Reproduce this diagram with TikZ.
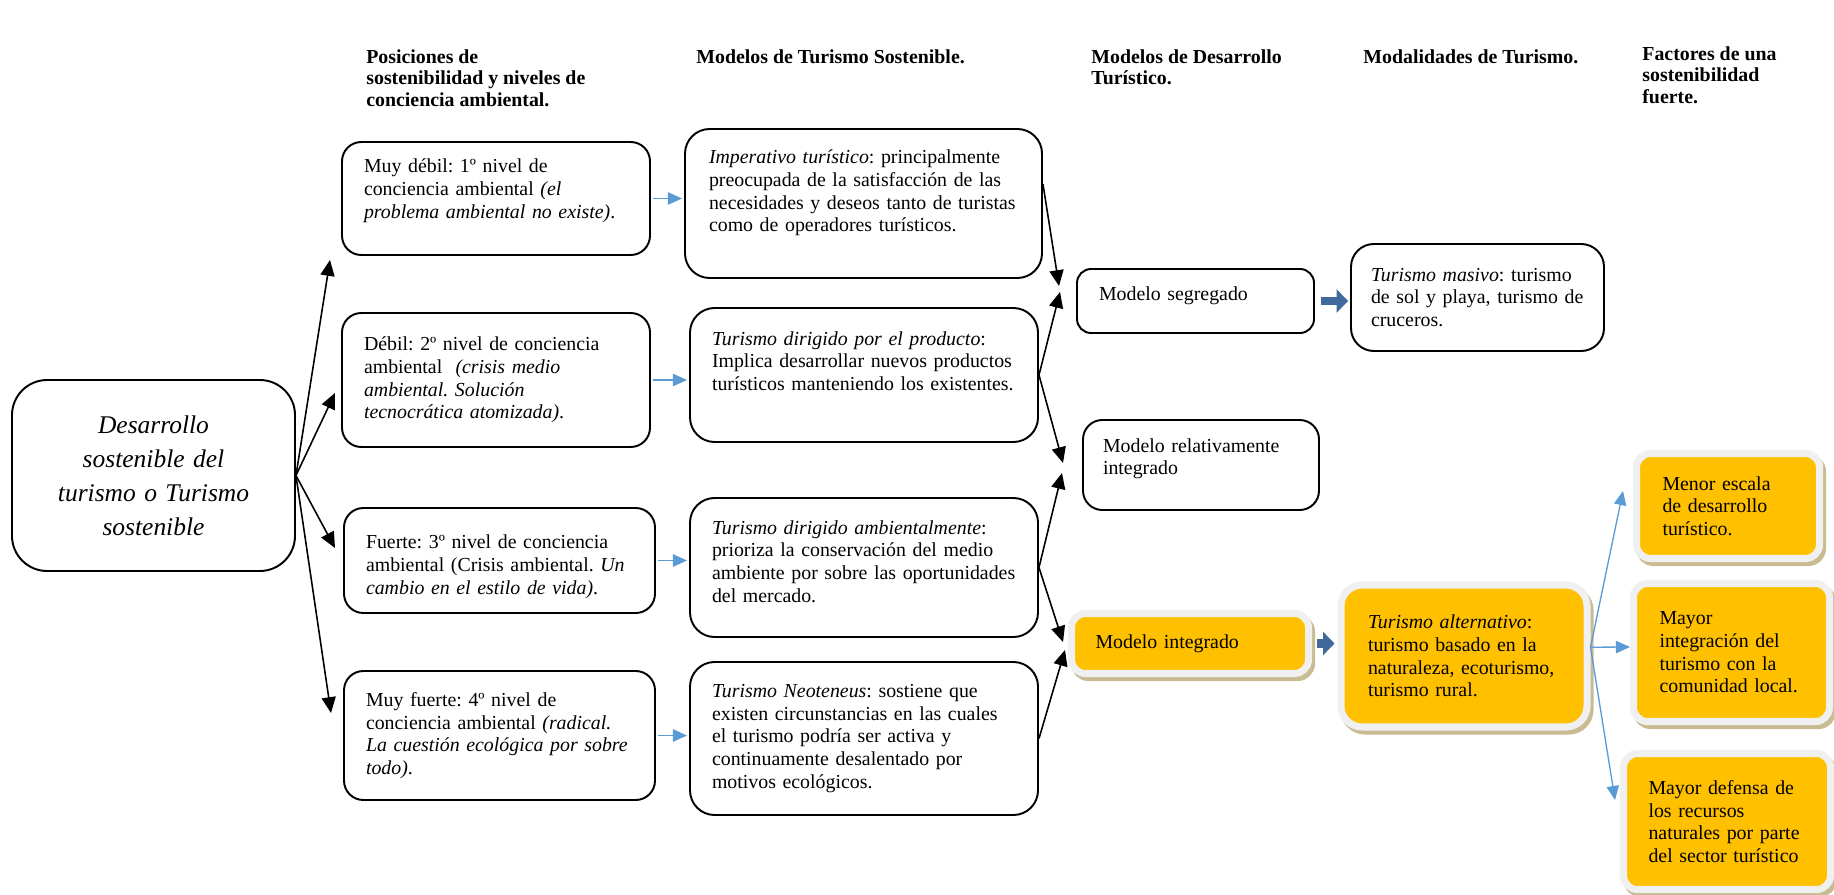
\documentclass[tikz,border=0pt]{standalone}
\usepackage{fontspec}
\setmainfont{Liberation Serif}
\usetikzlibrary{arrows.meta}
\newdimen\upx \upx=0.02cm
\newcommand{\lift}[1]{\par\vspace{#1}\hrule height0pt}
\newcommand{\drop}[1]{\hrule height0pt\vspace{#1}}
\definecolor{boxorange}{HTML}{FFC000}
\definecolor{framegray}{HTML}{F0F0F0}
\definecolor{shadowtan}{HTML}{C9BC93}
\definecolor{lineblue}{HTML}{5B9BD5}
\definecolor{blockblue}{HTML}{3F6A9B}
\tikzset{
  dims/.style n args={3}{text width=#1\upx, inner xsep=#2\upx, minimum height=#3\upx},
  txt/.style={font=\fontsize{11.3}{12.9}\selectfont\frenchspacing, align=left, inner ysep=0pt},
  whitebox/.style={txt, draw, line width=1.1pt, rounded corners=11pt},
  orangebox/.style={txt, fill=boxorange, draw=framegray, line width=4pt, rounded corners=8pt,
    preaction={draw=shadowtan, fill=shadowtan, line width=4pt,
      transform canvas={shift={(1.7pt,-2.3pt)}}}},
  header/.style={font=\fontsize{11.3}{12.4}\selectfont\bfseries, align=left,
    anchor=north west, inner sep=0pt},
  blackarrow/.style={-{Triangle[length=9pt,width=8pt]}, line width=0.9pt},
  bluearrow/.style={-{Triangle[length=8pt,width=7pt]}, draw=lineblue, line width=0.75pt,
    shorten <=2\upx, shorten >=2\upx},
  blockarrow/.style={-{Triangle[length=6.5pt,width=13pt]}, draw=blockblue, line width=4.6pt}
}
\begin{document}
\begin{tikzpicture}[x=0.02cm, y=-0.02cm]
\useasboundingbox[fill=white] (0,0) rectangle (1834,895);
% column headers
\node[header] (h1) at (366,49) {Posiciones de\\ sostenibilidad y niveles de\\ conciencia ambiental.};
\node[header] (h2) at (696,49) {Modelos de Turismo Sostenible.};
\node[header] (h3) at (1091,49) {Modelos de Desarrollo\\ Turístico.};
\node[header] (h4) at (1363,49) {Modalidades de Turismo.};
\node[header] (h5) at (1642,46) {Factores de una\\ sostenibilidad\\ fuerte.};
% root
\node[whitebox, align=center, font=\fontsize{14.5}{19.3}\selectfont\itshape, rounded corners=20pt,
  dims={263}{10}{191}] (dev) at (153.5,475.5) {Desarrollo\\ sostenible del\\ turismo o Turismo\\ sostenible};
% positions of sustainability
\node[whitebox, dims={264}{22}{113}] (c1a) at (496,198.5)
  {Muy débil: 1º nivel de\\ conciencia ambiental \textit{(el}\\ \textit{problema ambiental no existe)}.\lift{9pt}};
\node[whitebox, dims={264}{22}{134}] (c1b) at (496,380)
  {Débil: 2º nivel de conciencia\\ ambiental \ \textit{(crisis medio}\\ \textit{ambiental. Solución}\\ \textit{tecnocrática atomizada)}.};
\node[whitebox, dims={267}{22}{105}] (c1c) at (499.5,560.5)
  {\drop{7pt}Fuerte: 3º nivel de conciencia\\ ambiental (Crisis ambiental. \textit{Un}\\ \textit{cambio en el estilo de vida)}.};
\node[whitebox, dims={267}{22}{129}] (c1d) at (499.5,735.5)
  {Muy fuerte: 4º nivel de\\ conciencia ambiental \textit{(radical.}\\ \textit{La cuestión ecológica por sobre}\\ \textit{todo)}.};
% sustainable tourism models
\node[whitebox, rounded corners=14pt, dims={309}{24}{149}] (c2a) at (863.5,203.5)
  {\textit{Imperativo turístico}: principalmente\\ preocupada de la satisfacción de las\\ necesidades y deseos tanto de turistas\\ como de operadores turísticos.\lift{12pt}};
\node[whitebox, rounded corners=14pt, dims={304}{22}{134}] (c2b) at (864,375)
  {\textit{Turismo dirigido por el producto}:\\ Implica desarrollar nuevos productos\\ turísticos manteniendo los existentes.\lift{16pt}};
\node[whitebox, rounded corners=14pt, dims={304}{22}{139}] (c2c) at (864,567.5)
  {\textit{Turismo dirigido ambientalmente}:\\ prioriza la conservación del medio\\ ambiente por sobre las oportunidades\\ del mercado.\lift{7pt}};
\node[whitebox, rounded corners=14pt, dims={304}{22}{153}] (c2d) at (864,738.5)
  {\textit{Turismo Neoteneus}: sostiene que\\ existen circunstancias en las cuales\\ el turismo podría ser activa y\\ continuamente desalentado por\\ motivos ecológicos.};
% development models
\node[whitebox, rounded corners=8pt, dims={193}{22}{64}] (seg) at (1195.5,301) {Modelo segregado\lift{6pt}};
\node[whitebox, dims={196}{20}{90}] (rel) at (1201,465) {Modelo relativamente\\ integrado\lift{7pt}};
\node[orangebox, dims={189}{24}{60}] (integ) at (1190,643.5) {Modelo integrado};
% tourism modalities
\node[whitebox, rounded corners=13pt, dims={213}{20}{107}] (mas) at (1477.5,297.5)
  {\textit{Turismo masivo}: turismo\\ de sol y playa, turismo de\\ cruceros.};
\node[orangebox, rounded corners=12pt, dims={192}{27}{142}] (turalt) at (1464,656)
  {\textit{Turismo alternativo}:\\ turismo basado en la\\ naturaleza, ecoturismo,\\ turismo rural.};
% factors of strong sustainability
\node[orangebox, dims={131}{26}{105}] (fa) at (1728,506) {Menor escala\\ de desarrollo\\ turístico.};
\node[orangebox, dims={144}{26}{138}] (fb) at (1731.5,652.5) {Mayor\\ integración del\\ turismo con la\\ comunidad local.};
\node[orangebox, dims={157}{25}{136}] (fc) at (1727,821.5) {Mayor defensa de\\ los recursos\\ naturales por parte\\ del sector turístico};
% arrow ends
\coordinate (pa) at (330,260);
\coordinate (pb) at (335,393);
\coordinate (pc) at (335,548);
\coordinate (pd) at (331,713);
\coordinate (qa1) at (1059,286);
\coordinate (qa2) at (1060,292);
\coordinate (qb1) at (1063,463);
\coordinate (qb2) at (1062,473);
\coordinate (qc1) at (1063,642);
\coordinate (qc2) at (1065,650);
\coordinate (ts) at ([yshift=5pt]turalt.east);
\coordinate (ka) at (1623,491);
\coordinate (kb) at (1630,647);
\coordinate (kc) at (1615,800);
% connectors
\foreach \t in {pa,pb,pc,pd}
  \draw[blackarrow] (dev.east) -- (\t);
\foreach \s/\t in {c1a/c2a,c1b/c2b,c1c/c2c,c1d/c2d}
  \draw[bluearrow] (\s.east) -- (\s.east -| \t.west);
\draw[blackarrow] ([yshift=11pt]c2a.east) -- (qa1);
\draw[blackarrow] (c2b.east) -- (qa2);
\draw[blackarrow] (c2b.east) -- (qb1);
\draw[blackarrow] (c2c.east) -- (qb2);
\draw[blackarrow] (c2c.east) -- (qc1);
\draw[blackarrow] (c2d.east) -- (qc2);
\draw[blockarrow, shorten <=6\upx, shorten >=2\upx] (seg.east) -- (seg.east -| mas.west);
\draw[blockarrow, shorten <=5\upx, shorten >=3\upx] (integ.east) -- (integ.east -| turalt.west);
\foreach \t in {ka,kb,kc}
  \draw[bluearrow, shorten <=0pt, shorten >=0pt] (ts) -- (\t);
\end{tikzpicture}
\end{document}
